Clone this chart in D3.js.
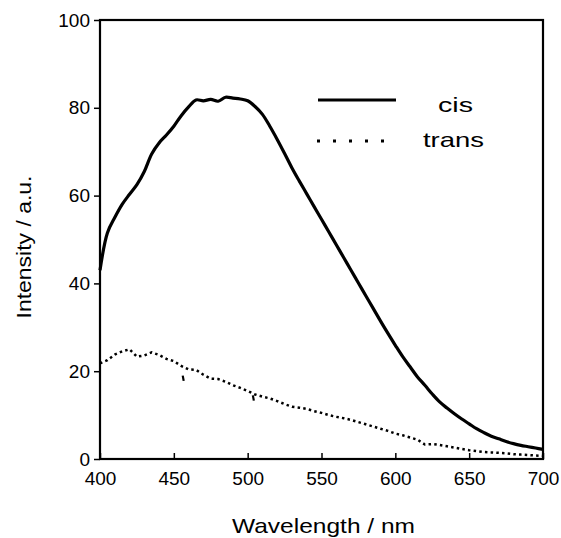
<!DOCTYPE html>
<html>
<head>
<meta charset="utf-8">
<script src="https://cdn.jsdelivr.net/npm/d3@7"></script>
<style>
  html, body { margin: 0; padding: 0; background: #fff; }
  text { font-family: Arial, "Liberation Sans", Helvetica, sans-serif; fill: #000; }
</style>
</head>
<body>
<svg id="chart" width="561" height="538"></svg>
<script>
// ---- data ----
const wavelengths = d3.range(400, 701, 5);
const cisValues = [
  43, 51.5, 55, 58, 60.3, 62.5, 65.5, 69.5, 72, 73.8,
  75.8, 78.2, 80.2, 81.8, 81.6, 81.9, 81.5, 82.4, 82.2, 82,
  81.6, 80.3, 78.5, 75.8, 72.8, 69.6, 66.3, 63.3, 60.4, 57.5,
  54.6, 51.7, 48.8, 45.9, 43, 40.1, 37.2, 34.3, 31.4, 28.6,
  25.9, 23.3, 21, 18.7, 16.8, 14.8, 13, 11.6, 10.3, 9.1,
  8, 6.9, 6, 5.2, 4.6, 4, 3.5, 3.1, 2.8, 2.5, 2.2
];
const transValues = [
  21.8, 22.5, 23.8, 24.5, 25, 23.3, 23.6, 24.3, 23.7, 22.8,
  22.3, 21.2, 20.4, 20.3, 19.2, 18.3, 18.2, 17.6, 16.8, 16.2,
  15.5, 14.7, 14.2, 13.8, 13.2, 12.5, 11.9, 11.7, 11.4, 10.9,
  10.5, 10, 9.6, 9.3, 8.9, 8.4, 7.9, 7.4, 6.9, 6.4,
  5.8, 5.4, 4.9, 4.4, 3.3, 3.4, 3.2, 2.9, 2.6, 2.3,
  2, 1.8, 1.6, 1.5, 1.4, 1.3, 1.1, 1, 0.9, 0.8, 0.7
];
const transOutlierW = [456, 503.5];
const transOutlierV = [18.4, 13.9];
const xTicks = [400, 450, 500, 550, 600, 650, 700];
const yTicks = [0, 20, 40, 60, 80, 100];
const seriesNames = ["cis", "trans"];

// ---- layout ----
const svg = d3.select("#chart");
const mLeft = 100, mRight = 543, mTop = 20, mBottom = 459;
const x = d3.scaleLinear().domain([400, 700]).range([mLeft, mRight]);
const y = d3.scaleLinear().domain([0, 100]).range([mBottom, mTop]);

// frame
svg.append("rect")
  .attr("x", mLeft).attr("y", mTop)
  .attr("width", mRight - mLeft).attr("height", mBottom - mTop)
  .attr("fill", "none").attr("stroke", "#000").attr("stroke-width", 2.2);

// y axis (ticks outward)
const yAxis = svg.append("g").attr("transform", `translate(${mLeft},0)`)
  .call(d3.axisLeft(y).tickValues(yTicks).tickSize(6).tickPadding(4).tickFormat(d3.format("d")));
yAxis.select(".domain").remove();
yAxis.selectAll(".tick line").attr("stroke", "#000").attr("stroke-width", 1.5);
yAxis.selectAll(".tick text").attr("font-size", 19).attr("font-family", "Arial, 'Liberation Sans', sans-serif").attr("fill", "#000");

// x axis (ticks inward)
const xAxis = svg.append("g").attr("transform", `translate(0,${mBottom})`)
  .call(d3.axisBottom(x).tickValues(xTicks).tickSizeInner(-6).tickSizeOuter(0).tickPadding(13).tickFormat(d3.format("d")));
xAxis.select(".domain").remove();
xAxis.selectAll(".tick line").attr("stroke", "#000").attr("stroke-width", 1.5);
xAxis.selectAll(".tick text").attr("font-size", 19).attr("font-family", "Arial, 'Liberation Sans', sans-serif").attr("fill", "#000");

// lines
const smoothLine = d3.line().x((d, i) => x(wavelengths[i])).y(d => y(d)).curve(d3.curveCatmullRom.alpha(0.5));
const line = d3.line().x((d, i) => x(wavelengths[i])).y(d => y(d));
svg.append("path").datum(cisValues)
  .attr("d", smoothLine).attr("fill", "none").attr("stroke", "#000")
  .attr("stroke-width", 3.2).attr("stroke-linejoin", "round");
svg.append("path").datum(transValues)
  .attr("d", line).attr("fill", "none").attr("stroke", "#000")
  .attr("stroke-width", 2.5).attr("stroke-dasharray", "2.5,3.2");
svg.selectAll(".outlier").data(transOutlierW).enter().append("line")
  .attr("class", "outlier")
  .attr("x1", (d) => x(d)).attr("x2", (d) => x(d) + 1)
  .attr("y1", (d, i) => y(transOutlierV[i] + 0.6)).attr("y2", (d, i) => y(transOutlierV[i] - 0.6))
  .attr("stroke", "#000").attr("stroke-width", 2.2);

// legend
svg.append("line").attr("x1", 318).attr("x2", 396).attr("y1", 100).attr("y2", 100)
  .attr("stroke", "#000").attr("stroke-width", 3);
svg.selectAll(".ldot").data(d3.range(5)).enter().append("rect")
  .attr("class", "ldot")
  .attr("x", d => 317 + d * 16).attr("y", 139.5).attr("width", 3).attr("height", 3).attr("fill", "#000");
svg.append("text").attr("x", 438).attr("y", 112).attr("font-size", 21)
  .attr("textLength", 35).attr("lengthAdjust", "spacingAndGlyphs").text(seriesNames[0]);
svg.append("text").attr("x", 423).attr("y", 147).attr("font-size", 21)
  .attr("textLength", 61).attr("lengthAdjust", "spacingAndGlyphs").text(seriesNames[1]);

// axis titles
svg.append("text").attr("x", 323.5).attr("y", 533).attr("text-anchor", "middle")
  .attr("font-size", 21).attr("textLength", 183).attr("lengthAdjust", "spacingAndGlyphs")
  .text("Wavelength / nm");
svg.append("text").attr("transform", "translate(31,247) rotate(-90)").attr("text-anchor", "middle")
  .attr("font-size", 21).attr("textLength", 143).attr("lengthAdjust", "spacingAndGlyphs")
  .text("Intensity / a.u.");
</script>
</body>
</html>
